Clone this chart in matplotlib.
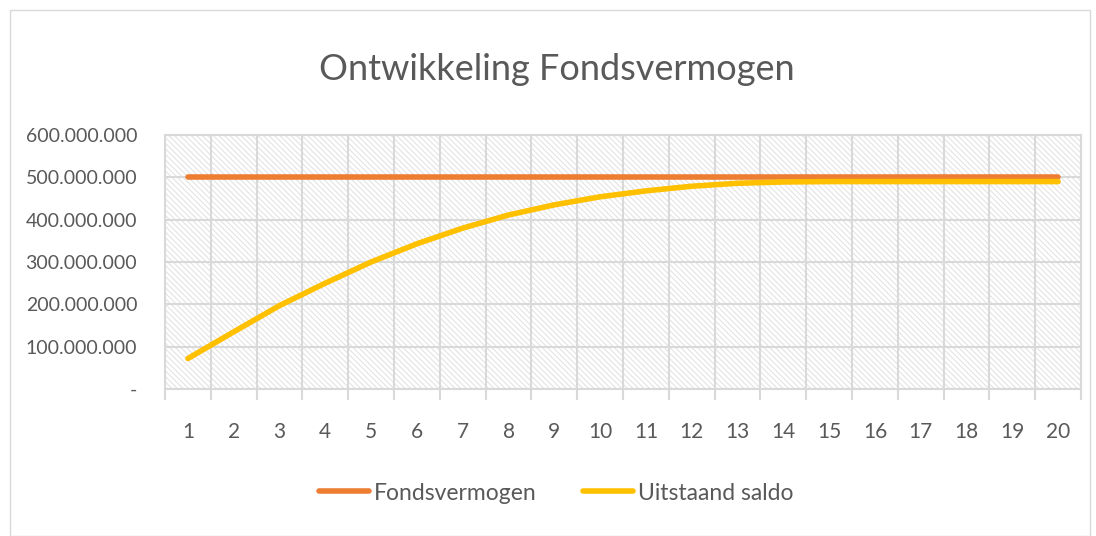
import matplotlib.pyplot as plt
import matplotlib.patches as mpatches
from matplotlib.ticker import FuncFormatter

# data
jaren = list(range(1, 21))
fondsvermogen = [500e6] * 20
uitstaand_saldo = [72e6, 135e6, 197e6, 250e6, 300e6, 343e6, 380e6, 411e6,
                   435e6, 454e6, 468e6, 479e6, 486e6, 489e6, 490e6, 490e6,
                   490e6, 490e6, 490e6, 490e6]

plt.rcParams['font.family'] = ['Lato', 'DejaVu Sans']
plt.rcParams['hatch.linewidth'] = 0.7

text_grey = '#595959'
grid_grey = '#d9d9d9'

fig = plt.figure(figsize=(10.96, 5.36), dpi=100)
ax = fig.add_axes([165 / 1096, 1 - 389 / 536, 916 / 1096, 254 / 536])

# chart border
fig.patches.append(mpatches.Rectangle((10 / 1096, 0.0), 1080 / 1096, 1 - 10 / 536,
                                      transform=fig.transFigure, fill=False,
                                      edgecolor='#d9d9d9', linewidth=1))

# hatched plot area
ax.add_patch(mpatches.Rectangle((0, 0), 1, 1, transform=ax.transAxes,
                                facecolor='white', edgecolor='#e0e0e0',
                                linewidth=0, hatch='\\\\\\\\\\\\', zorder=0))

ax.plot(jaren, fondsvermogen, color='#ed7d31', linewidth=4,
        solid_capstyle='round', label='Fondsvermogen', zorder=3)
ax.plot(jaren, uitstaand_saldo, color='#ffc000', linewidth=4,
        solid_capstyle='round', label='Uitstaand saldo', zorder=4)

ax.set_xlim(0.5, 20.5)
ax.set_ylim(0, 600e6)
ax.set_yticks(range(0, 600000001, 100000000))
ax.set_xticks(jaren)
ax.set_xticks([x + 0.5 for x in range(0, 21)], minor=True)

def fmt(v, pos):
    if v == 0:
        return '-'
    return f'{int(v):,}'.replace(',', '.')

ax.yaxis.set_major_formatter(FuncFormatter(fmt))

ax.grid(axis='y', which='major', color=grid_grey, linewidth=1.5, zorder=1)
ax.grid(axis='x', which='minor', color=grid_grey, linewidth=1.5, zorder=1)
for s in ax.spines.values():
    s.set_color(grid_grey)
    s.set_linewidth(1.5)
ax.tick_params(axis='x', which='major', length=0, pad=24,
               labelsize=15, labelcolor=text_grey)
ax.tick_params(axis='x', which='minor', length=8, color=grid_grey, width=1.5)
ax.tick_params(axis='y', length=0, pad=20, labelsize=14, labelcolor=text_grey)

fig.text(557 / 1096, 1 - 70 / 536, 'Ontwikkeling Fondsvermogen',
         ha='center', va='center', fontsize=26, color=text_grey)

fig.legend(loc='center', bbox_to_anchor=(556 / 1096, 1 - 493 / 536), ncol=2,
           frameon=False, fontsize=16.5, labelcolor=text_grey, handlelength=2.2,
           handletextpad=0.2, columnspacing=2.0)

fig.savefig('out.png', dpi=100)
